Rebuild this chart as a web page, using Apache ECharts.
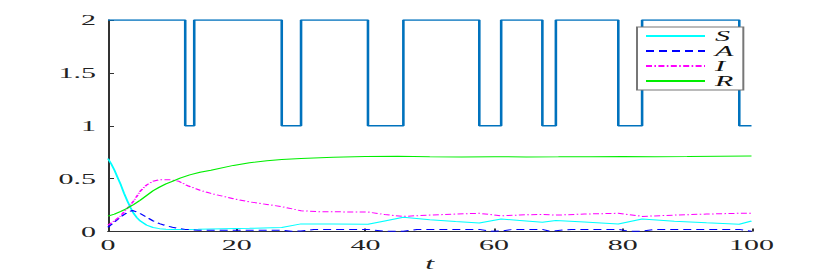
<!DOCTYPE html>
<html>
<head>
<meta charset="utf-8">
<script src="https://cdn.jsdelivr.net/npm/echarts@6/dist/echarts.min.js"></script>
<style>
html,body{margin:0;padding:0;background:#fff;overflow:hidden;}
#c{width:415px;height:273px;transform:scaleX(2);transform-origin:0 0;}
</style>
</head>
<body>
<div id="c"></div>
<script>
// Switching signal (piecewise constant, value held until next switch time)
const modeT = [0, 12, 13.4, 27, 30, 40.4, 45.9, 57.7, 61.1, 67.5, 69.6, 79.3, 83, 98.1, 100];
const modeV = [2, 1, 2, 1, 2, 1, 2, 1, 2, 1, 2, 1, 2, 1, 1];

// S
const sT = [0, 0.5, 1, 1.5, 2, 2.5, 3, 3.5, 4, 4.5, 5, 6, 7, 8, 9, 10, 12, 14, 18, 22, 27, 30, 35, 40.4, 43, 45.9, 50, 54, 57.7, 61.1, 64, 67.5, 69.6, 74, 79.3, 83, 88, 93, 98.1, 100];
const sV = [0.69, 0.64, 0.58, 0.51, 0.44, 0.36, 0.29, 0.225, 0.17, 0.13, 0.10, 0.06, 0.038, 0.027, 0.021, 0.019, 0.02, 0.022, 0.027, 0.03, 0.037, 0.072, 0.07, 0.068, 0.10, 0.134, 0.112, 0.095, 0.08, 0.118, 0.104, 0.087, 0.105, 0.09, 0.071, 0.118, 0.098, 0.082, 0.068, 0.099];

// A
const aT = [0, 1, 2, 3, 3.8, 5, 6, 7, 8, 9, 10, 11, 12, 14, 20, 27, 28.5, 30, 32, 40.4, 43, 45.9, 48, 57.7, 59.5, 61.1, 63, 67.5, 68.5, 69.6, 72, 79.3, 81, 83, 85, 98.1, 100];
const aV = [0.04, 0.09, 0.14, 0.18, 0.20, 0.17, 0.135, 0.10, 0.075, 0.055, 0.04, 0.028, 0.02, 0.012, 0.012, 0.012, 0.002, 0.005, 0.018, 0.02, 0.002, 0.003, 0.018, 0.02, 0.003, 0.005, 0.02, 0.02, 0.005, 0.008, 0.02, 0.02, 0.002, 0.003, 0.02, 0.02, 0.003];

// I
const iT = [0, 1, 2, 3, 3.4, 4, 5, 6, 7, 8, 9.5, 11, 12.5, 14.3, 16, 19.5, 22, 24.7, 27, 30, 33, 37.6, 40.4, 43, 45.9, 50, 54, 57.7, 61.1, 64, 67.5, 69.6, 74, 79.3, 83, 88, 93, 98.1, 100];
const iV = [0.06, 0.10, 0.15, 0.22, 0.245, 0.29, 0.38, 0.44, 0.475, 0.49, 0.49, 0.475, 0.43, 0.39, 0.36, 0.31, 0.28, 0.256, 0.235, 0.196, 0.187, 0.185, 0.184, 0.16, 0.143, 0.155, 0.165, 0.172, 0.148, 0.156, 0.162, 0.155, 0.165, 0.172, 0.143, 0.155, 0.165, 0.172, 0.172];

// R
const rT = [0, 1, 2, 3, 3.4, 4, 5, 6, 7, 8, 9, 10, 11.2, 12.7, 14.3, 16, 19.5, 22, 24.7, 27, 30, 35, 40, 45, 50, 55, 60, 65, 70, 75, 80, 85, 90, 95, 100];
const rV = [0.146, 0.165, 0.19, 0.22, 0.235, 0.255, 0.295, 0.34, 0.385, 0.42, 0.45, 0.475, 0.505, 0.535, 0.56, 0.58, 0.625, 0.65, 0.668, 0.68, 0.69, 0.703, 0.71, 0.712, 0.706, 0.705, 0.707, 0.705, 0.706, 0.708, 0.709, 0.708, 0.709, 0.712, 0.715];

const xTicks = [0, 20, 40, 60, 80, 100];
const yTicks = [0, 0.5, 1, 1.5, 2];

const pairs = (t, v) => t.map((x, k) => [x, v[k]]);
const serif = 'Liberation Serif';
const axisColor = '#333';

const chart = echarts.init(document.getElementById('c'), null, {renderer: 'svg', width: 415, height: 273});
chart.setOption({
  animation: false,
  backgroundColor: '#fff',
  grid: {left: 54, right: 39.25, top: 20, bottom: 41.5, containLabel: false, outerBoundsMode: 'none'},
  xAxis: {
    type: 'value', min: xTicks[0], max: xTicks[xTicks.length - 1], interval: 20,
    name: 't', nameLocation: 'middle', nameGap: 24, nameMoveOverlap: false,
    nameTextStyle: {fontFamily: serif, fontStyle: 'italic', fontSize: 16, lineHeight: 16, color: '#222'},
    axisLine: {lineStyle: {color: axisColor, width: 1}},
    axisTick: {inside: true, length: 3, lineStyle: {color: axisColor}},
    axisLabel: {fontFamily: serif, fontSize: 15, color: '#222', margin: 6},
    splitLine: {show: false}
  },
  yAxis: {
    type: 'value', min: yTicks[0], max: yTicks[yTicks.length - 1], interval: 0.5,
    axisLine: {show: true, lineStyle: {color: axisColor, width: 1}},
    axisTick: {show: true, inside: true, length: 3, lineStyle: {color: axisColor}},
    axisLabel: {fontFamily: serif, fontSize: 15, color: '#222', margin: 6},
    splitLine: {show: false}
  },
  legend: {
    data: ['S', 'A', 'I', 'R'],
    orient: 'vertical', left: 318.5, top: 27,
    itemWidth: 29.5, itemHeight: 10, itemGap: 0,
    padding: [1.5, 5, 1.5, 3.5],
    itemStyle: {opacity: 0},
    backgroundColor: '#fff', borderColor: '#777', borderWidth: 1, borderRadius: 0,
    textStyle: {fontFamily: serif, fontStyle: 'italic', fontSize: 15, lineHeight: 15, color: '#111'}
  },
  series: [
    {type: 'line', name: 'mode', data: pairs(modeT, modeV), step: 'end', symbol: 'none',
     lineStyle: {color: '#0072BD', width: 1.3}, itemStyle: {color: '#0072BD'}, z: 1},
    {type: 'line', name: 'S', data: pairs(sT, sV), symbol: 'none',
     lineStyle: {color: '#00FFFF', width: 1}, itemStyle: {color: '#00FFFF'}, z: 2},
    {type: 'line', name: 'A', data: pairs(aT, aV), symbol: 'none',
     lineStyle: {color: '#0000FF', width: 1, type: [4, 2.5]}, itemStyle: {color: '#0000FF'}, z: 3},
    {type: 'line', name: 'I', data: pairs(iT, iV), symbol: 'none',
     lineStyle: {color: '#FF00FF', width: 1, type: [3, 1.2, 0.8, 1.2]}, itemStyle: {color: '#FF00FF'}, z: 4},
    {type: 'line', name: 'R', data: pairs(rT, rV), symbol: 'none',
     lineStyle: {color: '#00EE00', width: 1}, itemStyle: {color: '#00EE00'}, z: 5}
  ]
});
</script>
</body>
</html>
